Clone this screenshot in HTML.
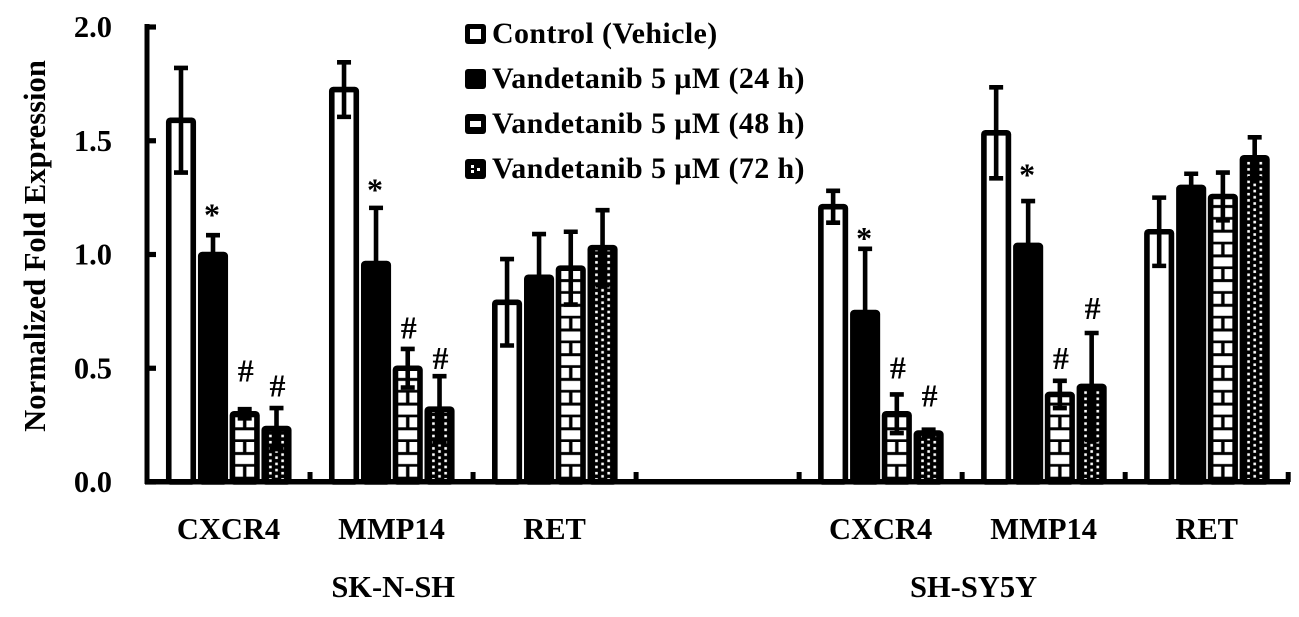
<!DOCTYPE html>
<html>
<head>
<meta charset="utf-8">
<title>Normalized fold expression chart</title>
<style>
html,body{margin:0;padding:0;background:#fff;width:1299px;height:617px;overflow:hidden}
svg{display:block}
text{font-family:"Liberation Serif",serif;font-weight:bold;fill:#000}
</style>
</head>
<body>
<svg id="chart" width="1299" height="617" viewBox="0 0 1299 617" xmlns="http://www.w3.org/2000/svg">
<defs id="defs"></defs>
<g id="bars"></g>
<g id="axes"></g>
<g id="labels"></g>
<g id="legend"></g>
</svg>
<script>
const categories = ["CXCR4","MMP14","RET","","CXCR4","MMP14","RET"];
const cellLines = ["SK-N-SH","SH-SY5Y"];
const cellLineCenters = [1.51,5.07];
const seriesNames = ["Control (Vehicle)","Vandetanib 5 µM (24 h)","Vandetanib 5 µM (48 h)","Vandetanib 5 µM (72 h)"];
const yTicks = ["0.0","0.5","1.0","1.5","2.0"];
const control = [1.59,1.725,0.79,null,1.21,1.535,1.10];
const h24 = [1.00,0.96,0.90,null,0.745,1.04,1.295];
const h48 = [0.30,0.50,0.94,null,0.30,0.385,1.255];
const h72 = [0.235,0.32,1.03,null,0.215,0.42,1.425];
const errControl = [0.23,0.12,0.19,null,0.07,0.20,0.15];
const err24 = [0.085,0.245,0.19,null,0.28,0.195,0.06];
const err48 = [0.02,0.085,0.16,null,0.085,0.06,0.105];
const err72 = [0.09,0.145,0.165,null,0.015,0.235,0.09];
const marks24 = ["*","*","",null,"*","*",""];
const marks48 = ["#","#","",null,"#","#",""];
const marks72 = ["#","#","",null,"#","#",""];
const markLevel24 = [1.19,1.30,0,null,1.085,1.365,0];
const markLevel48 = [0.485,0.675,0,null,0.50,0.54,0];
const markLevel72 = [0.42,0.54,0,null,0.375,0.76,0];

const NS = "http://www.w3.org/2000/svg";
const X0 = 147, GROUP = 163.03, Y0 = 482, UNIT = 227.5;
const OFFSETS = [34, 66, 97.7, 129.5];
const xBand = i => X0 + i * GROUP;
const xBar = (i, s) => xBand(i) + OFFSETS[s];
const yPos = v => Y0 - v * UNIT;
const svgEl = (tag, attrs, parent) => {
  const e = document.createElementNS(NS, tag);
  for (const k in attrs) e.setAttribute(k, attrs[k]);
  parent.appendChild(e);
  return e;
};
const defs = document.getElementById("defs");
const barsG = document.getElementById("bars");
const axesG = document.getElementById("axes");
const labelsG = document.getElementById("labels");
const legendG = document.getElementById("legend");

function brickPattern(id, cx) {
  const p = svgEl("pattern", {id: id, patternUnits: "userSpaceOnUse", width: 60, height: 24.7,
    patternTransform: "translate(" + (cx - 30) + " 442)"}, defs);
  svgEl("rect", {x: 0, y: 0, width: 60, height: 24.7, fill: "#000"}, p);
  svgEl("rect", {x: 0, y: 0, width: 28.3, height: 10, fill: "#fff"}, p);
  svgEl("rect", {x: 31.7, y: 0, width: 28.3, height: 10, fill: "#fff"}, p);
  svgEl("rect", {x: 0, y: 13, width: 60, height: 9, fill: "#fff"}, p);
}
function dotPattern(id, cx) {
  const p = svgEl("pattern", {id: id, patternUnits: "userSpaceOnUse", width: 12.2, height: 6.2,
    patternTransform: "translate(" + (cx - 6.1) + " " + (Y0 - 1) + ")"}, defs);
  svgEl("rect", {x: 0, y: 0, width: 12.2, height: 6.2, fill: "#000"}, p);
  svgEl("rect", {x: 4.8, y: 0.2, width: 2.6, height: 2.6, fill: "#fff"}, p);
  svgEl("rect", {x: -1.3, y: 3.3, width: 2.6, height: 2.6, fill: "#fff"}, p);
  svgEl("rect", {x: 10.9, y: 3.3, width: 2.6, height: 2.6, fill: "#fff"}, p);
}

const seriesValues = [control, h24, h48, h72];
const seriesErrors = [errControl, err24, err48, err72];
const seriesMarks = [null, marks24, marks48, marks72];
const seriesLevels = [null, markLevel24, markLevel48, markLevel72];
const barW = 24.5, strokeW = 5.6;

seriesValues.forEach((vals, s) => {
  vals.forEach((v, i) => {
    if (v === null) return;
    const cx = xBar(i, s);
    let fill = s === 0 ? "#fff" : "#000";
    if (s === 2) { const id = "brick-" + i; brickPattern(id, cx); fill = "url(#" + id + ")"; }
    if (s === 3) { const id = "dots-" + i; dotPattern(id, cx); fill = "url(#" + id + ")"; }
    const top = yPos(v);
    const bar = svgEl("rect", {x: cx - barW / 2, y: top, width: barW, height: Y0 - top, rx: 1.5,
      fill: fill, stroke: "#000", "stroke-width": strokeW}, barsG);
    
    
  });
});
seriesValues.forEach((vals, s) => {
  vals.forEach((v, i) => {
    if (v === null) return;
    const cx = xBar(i, s);
    const e = seriesErrors[s][i];
    const hi = yPos(v + e), lo = yPos(v - e);
    const err = svgEl("path", {d: "M" + cx + " " + hi + "V" + lo, stroke: "#000", "stroke-width": 4.6, fill: "none"}, barsG);
    
    
    const cap = svgEl("path", {d: "M" + (cx - 7) + " " + hi + "H" + (cx + 7) + "M" + (cx - 7) + " " + lo + "H" + (cx + 7),
      stroke: "#000", "stroke-width": 4.6, fill: "none"}, barsG);
    
    
    if (seriesMarks[s] && seriesMarks[s][i]) {
      const m = seriesMarks[s][i];
      const t = svgEl("text", {x: cx + (m === "*" ? -1 : 1), y: yPos(seriesLevels[s][i]) + (m === "*" ? 14 : 10),
        "text-anchor": "middle", "font-size": 32}, labelsG);
      t.textContent = m;
      
      
    }
  });
});

const yLine = svgEl("rect", {x: 144.5, y: 24, width: 5, height: 460, fill: "#000"}, axesG);


const xLine = svgEl("rect", {x: 146, y: 479, width: 1144, height: 5.5, fill: "#000"}, axesG);



yTicks.forEach(lbl => {
  const y = yPos(parseFloat(lbl));
  const tick = svgEl("rect", {x: 145, y: y - 2.6, width: 11, height: 5.2, fill: "#000"}, axesG);
  
  
  const t = svgEl("text", {x: 112, y: y + 10, "text-anchor": "end", "font-size": 30.5}, labelsG);
  t.textContent = lbl;
  
  
});

categories.forEach((c, i) => {
  const tx = xBand(i + 1);
  const tick = svgEl("rect", {x: tx - 2.5, y: 472, width: 5, height: 10, fill: "#000"}, axesG);
  
  
  if (!c) return;
  const t = svgEl("text", {x: xBand(i) + 81.5, y: 539, "text-anchor": "middle", "font-size": 30.5}, labelsG);
  t.textContent = c;
  
  
});

cellLines.forEach((name, k) => {
  const t = svgEl("text", {x: xBand(cellLineCenters[k]), y: 597, "text-anchor": "middle", "font-size": 30.5}, labelsG);
  t.textContent = name;
  
  
});

const yTitle = svgEl("text", {x: 0, y: 0, transform: "translate(45 246) rotate(-90)", "text-anchor": "middle", "font-size": 30.6}, labelsG);
yTitle.textContent = "Normalized Fold Expression";



seriesNames.forEach((name, s) => {
  const cy = 34 + s * 45;
  const row = svgEl("g", {}, legendG);
  
  
  svgEl("rect", {x: 465, y: cy - 10, width: 21, height: 20, rx: 3, fill: "#000"}, row);
  if (s === 0) svgEl("rect", {x: 470, y: cy - 5, width: 11, height: 10, fill: "#fff"}, row);
  if (s === 2) svgEl("rect", {x: 470, y: cy - 3, width: 11, height: 6, fill: "#fff"}, row);
  if (s === 3) {
    svgEl("rect", {x: 471, y: cy - 4, width: 3, height: 3, fill: "#fff"}, row);
    svgEl("rect", {x: 471, y: cy + 1, width: 3, height: 3, fill: "#fff"}, row);
    svgEl("rect", {x: 477, y: cy - 1, width: 3, height: 3, fill: "#fff"}, row);
  }
  const t = svgEl("text", {x: 492, y: cy + 9, "font-size": 30, "letter-spacing": 0.38}, row);
  t.textContent = name;
});
</script>
</body>
</html>
